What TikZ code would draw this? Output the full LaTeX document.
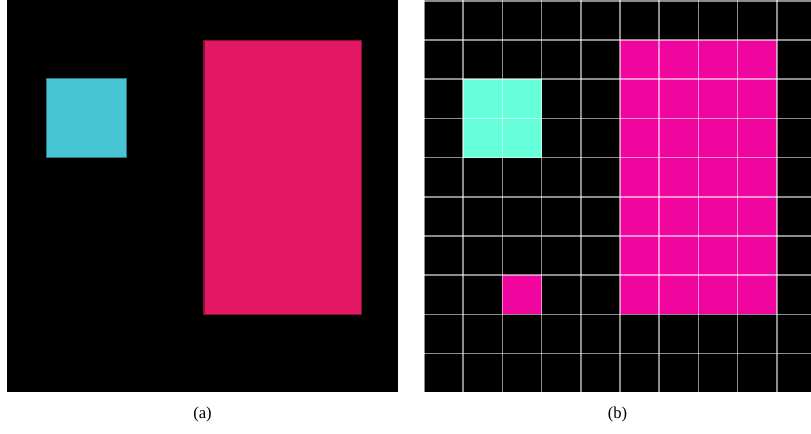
\documentclass[tikz,border=0pt]{standalone}
\usepackage{fontspec}
\setmainfont{Liberation Serif}
\usepackage{tikz}
\usetikzlibrary{positioning}

\definecolor{CyanA}{HTML}{47C5D5}
\definecolor{PinkA}{HTML}{E31764}
\definecolor{MintB}{HTML}{66FFD9}
\definecolor{MagentaB}{HTML}{F0069E}

\tikzstyle{panel} = [fill=black]
\tikzstyle{gridline} = [draw=white, opacity=0.55, line width=1.2]
\tikzstyle{caption} = [font=\fontsize{12.5}{15}\selectfont]

\begin{document}
\begin{tikzpicture}[x=0.75pt, y=-0.75pt]
  \useasboundingbox (0,0) rectangle (811,434);

  % (a) the image
  \fill[panel] (7,0) rectangle (398,392);
  \draw[fill=CyanA, draw=CyanA!60!black, thick] (46.7,78.4) rectangle (126.6,157.2);
  \draw[fill=PinkA, draw=PinkA!60!black, thick] (204,40.2) rectangle (361.6,314.2);

  % (b) the same on a grid of cells
  \fill[panel] (424,0) rectangle (811,392);
  \fill[MintB] (463.2,79.2) rectangle (541.6,157.6);
  \fill[MagentaB] (620,40) rectangle (776.8,314.4);
  \fill[MagentaB] (502.4,275.2) rectangle (541.6,314.4);
  \foreach \i in {0,...,9}
    \draw[gridline] ({424+39.2*\i},0) -- ({424+39.2*\i},392);
  \foreach \j in {0,...,9}
    \draw[gridline] (424,{0.8+39.2*\j}) -- (811,{0.8+39.2*\j});

  \node[caption] (capa) at (202.5,414) {(a)};
  \node[caption] (capb) at (617.5,414) {(b)};
\end{tikzpicture}
\end{document}
